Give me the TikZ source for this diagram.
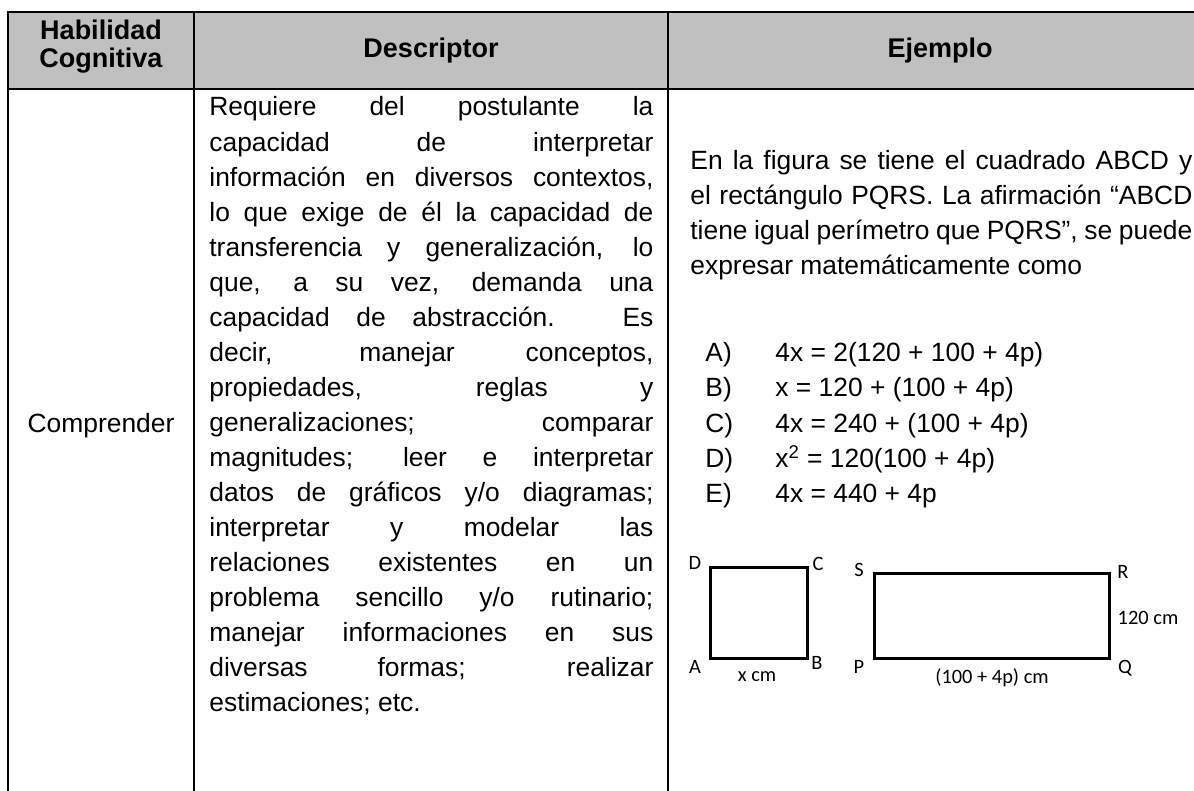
\documentclass[tikz,border=0pt]{standalone}
\usepackage{fontspec}
\setmainfont{Liberation Sans}
\newfontfamily\labelfont{Carlito}
\definecolor{headgray}{HTML}{C0C0C0}
\tikzset{
    bodytext/.style={anchor=base west, inner sep=0pt, font=\fontsize{13.2pt}{16pt}\selectfont},
    headtext/.style={anchor=base, inner sep=0pt, font=\fontsize{13.5pt}{16pt}\selectfont\bfseries},
    figtext/.style={inner sep=0pt, font=\labelfont\fontsize{10.2pt}{12pt}\selectfont},
    tablerule/.style={line width=1.25pt},
    figline/.style={line width=1.5pt}
}
\newcommand{\descline}[3]{\node[bodytext] (#1) at (209,#2) {\makebox[222pt][s]{#3}};}
\newcommand{\exline}[3]{\node[bodytext] (#1) at (690,#2) {\makebox[251pt][s]{#3}};}
\newcommand{\optline}[4]{\node[bodytext] (#1) at (705,#2) {#3}; \node[bodytext] (#1f) at (775,#2) {#4};}
\newcommand{\figlabel}[4]{\node[figtext] (#1) at ( #2 , #3 ) {#4};}

\begin{document}
\begin{tikzpicture}[x=0.5pt,y=-0.5pt]
        \useasboundingbox (0,0) rectangle (1194,791);
        % header
        \fill[headgray] (8,12) rectangle (1194,89);
        \draw[tablerule] (1194,12) -- (8,12) -- (8,791);
        \draw[tablerule] (8,89) -- (1194,89);
        \draw[tablerule] (194,12) -- (194,791);
        \draw[tablerule] (668,12) -- (668,791);

        \node[headtext] (habil) at (101,39.5) {Habilidad};
        \node[headtext] (cogn) at (101,68) {Cognitiva};
        \node[headtext] (descr) at (431,58) {Descriptor};
        \node[headtext] (ejem) at (940,58) {Ejemplo};

        % column 1
        \node[bodytext, anchor=base] (compr) at (101,432) {Comprender};

        % column 2
        \descline{d0}{116.0}{Requiere del postulante la}
        \descline{d1}{151.1}{capacidad de interpretar}
        \descline{d2}{186.1}{información en diversos contextos,}
        \descline{d3}{221.2}{lo que exige de él la capacidad de}
        \descline{d4}{256.2}{transferencia y generalización, lo}
        \descline{d5}{291.3}{que, a su vez, demanda una}
        \descline{d6}{326.3}{capacidad de abstracción. Es}
        \descline{d7}{361.4}{decir, manejar conceptos,}
        \descline{d8}{396.4}{propiedades, reglas y}
        \descline{d9}{431.5}{generalizaciones; comparar}
        \descline{d10}{466.5}{magnitudes; leer e interpretar}
        \descline{d11}{501.6}{datos de gráficos y/o diagramas;}
        \descline{d12}{536.6}{interpretar y modelar las}
        \descline{d13}{571.7}{relaciones existentes en un}
        \descline{d14}{606.7}{problema sencillo y/o rutinario;}
        \descline{d15}{641.8}{manejar informaciones en sus}
        \descline{d16}{676.8}{diversas formas; realizar}
        \node[bodytext] (d17) at (209,711.9) {estimaciones; etc.};

        % column 3
        \exline{e0}{170}{En la figura se tiene el cuadrado ABCD y}
        \exline{e1}{205}{el rectángulo PQRS. La afirmación “ABCD}
        \exline{e2}{240}{tiene igual perímetro que PQRS”, se puede}
        \node[bodytext] (e3) at (690,275) {expresar matemáticamente como};

        % options
        \optline{optA}{361}{A)}{4x = 2(120 + 100 + 4p)}
        \optline{optB}{396}{B)}{x = 120 + (100 + 4p)}
        \optline{optC}{432}{C)}{4x = 240 + (100 + 4p)}
        \optline{optD}{467}{D)}{x\textsuperscript{2} = 120(100 + 4p)}
        \optline{optE}{502}{E)}{4x = 440 + 4p}

        % square ABCD
        \draw[figline] (710,567) rectangle (807,658);
        \figlabel{lD}{695}{563}{D}
        \figlabel{lC}{818}{564}{C}
        \figlabel{lA}{695}{667}{A}
        \figlabel{lB}{817}{663}{B}
        \figlabel{lx}{757}{677}{x cm}
        % rectangle PQRS
        \draw[figline] (874,573) rectangle (1109,658);
        \figlabel{lS}{859}{570}{S}
        \figlabel{lR}{1123}{572}{R}
        \figlabel{lP}{859}{667}{P}
        \figlabel{lQ}{1125}{668}{Q}
        \figlabel{lh}{1148}{618}{120 cm}
        \figlabel{lw}{992}{678}{(100 + 4p) cm}
\end{tikzpicture}
\end{document}
